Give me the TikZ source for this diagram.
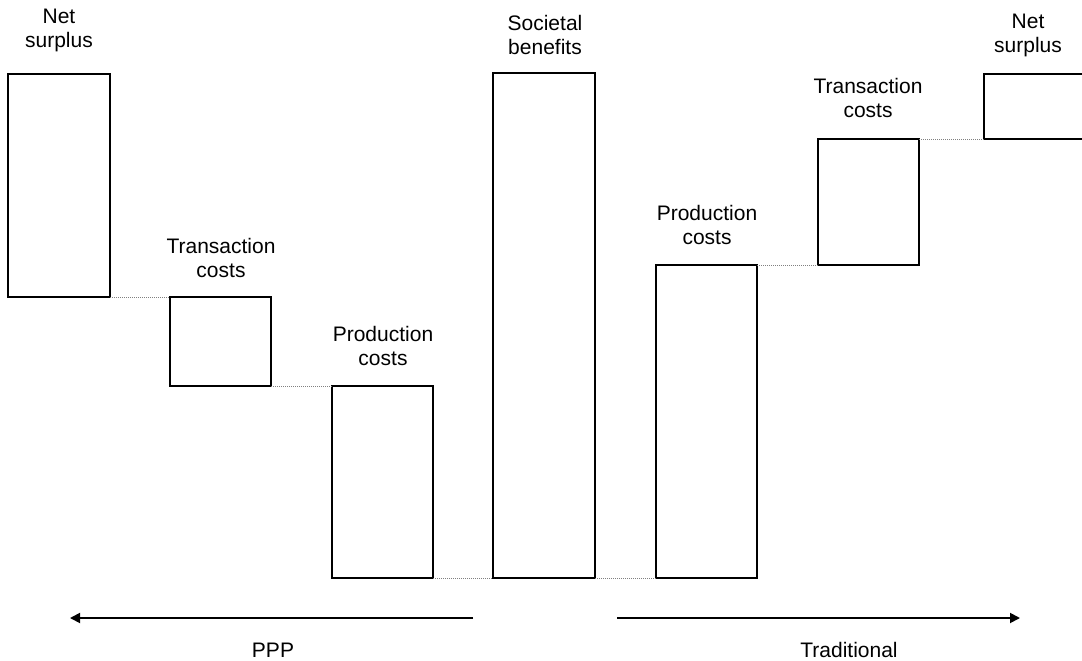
\documentclass[tikz,border=0pt]{standalone}
\usepackage{fontspec}
\setmainfont{Liberation Sans}
\usetikzlibrary{arrows.meta}
\begin{document}
\begin{tikzpicture}[x=1pt,y=-1pt,
  bar/.style={draw=black, line width=1.2pt, fill=white, inner sep=0pt, outer sep=0pt, anchor=north west},
  lbl/.style={font=\fontsize{21}{24.5}\selectfont, align=center, anchor=south, inner sep=0pt, text depth=0pt},
  conn/.style={draw=gray, line width=0.9pt, dash pattern=on 1pt off 1pt},
  arr/.style={line width=1.8pt, -{Triangle[length=10pt,width=10pt]}}]
\useasboundingbox (0,0) rectangle (1082,661);
% bars
\node[bar, minimum width=102pt, minimum height=223pt] (ns1) at (8,74) {};
\node[bar, minimum width=101pt, minimum height=89pt] (tc1) at (170,297) {};
\node[bar, minimum width=101pt, minimum height=192pt] (pc1) at (332,386) {};
\node[bar, minimum width=102pt, minimum height=505pt] (sb) at (493,73) {};
\node[bar, minimum width=101pt, minimum height=313pt] (pc2) at (656,265) {};
\node[bar, minimum width=101pt, minimum height=126pt] (tc2) at (818,139) {};
\node[bar, minimum width=110pt, minimum height=65pt] (ns2) at (984,74) {};
% dotted connectors
\draw[conn] (ns1.south east) -- (tc1.north west);
\draw[conn] (tc1.south east) -- (pc1.north west);
\draw[conn] (pc1.south east) -- (sb.south west);
\draw[conn] (sb.south east) -- (pc2.south west);
\draw[conn] (pc2.north east) -- (tc2.south west);
\draw[conn] (tc2.north east) -- (ns2.south west);
% labels
\node[lbl] (l1) at (59,48) {Net\\surplus};
\node[lbl] (l2) at (221,278) {Transaction\\costs};
\node[lbl] (l3) at (383,366) {Production\\costs};
\node[lbl] (l4) at (545,55) {Societal\\benefits};
\node[lbl] (l5) at (707,245) {Production\\costs};
\node[lbl] (l6) at (868,118) {Transaction\\costs};
\node[lbl] (l7) at (1028,53) {Net\\surplus};
% arrows
\coordinate (pa) at (473,618);
\coordinate (pb) at (70,618);
\coordinate (ta) at (617,618);
\coordinate (tb) at (1020,618);
\draw[arr] (pa) -- (pb);
\draw[arr] (ta) -- (tb);
\node[lbl, anchor=base] (ppp) at (273,657) {PPP};
\node[lbl, anchor=base] (trad) at (849,657) {Traditional};
\end{tikzpicture}
\end{document}
